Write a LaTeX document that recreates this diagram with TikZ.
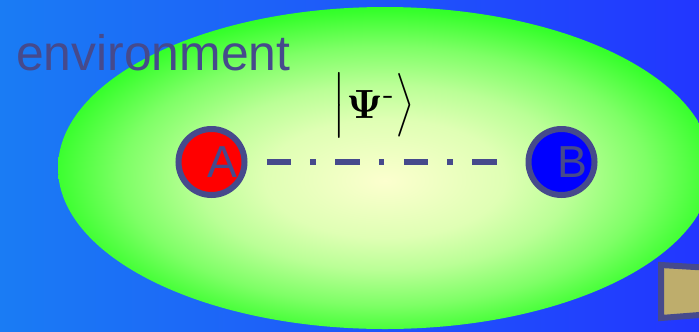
\documentclass[tikz,border=0pt]{standalone}
\usepackage[no-math]{fontspec}
\newfontfamily\arialfont{Liberation Sans}
\usepackage{graphicx}
\usepackage{tikz}
\usetikzlibrary{positioning}
\definecolor{envslate}{HTML}{464A8C}
\definecolor{bgleft}{HTML}{1A7CF4}
\definecolor{bgright}{HTML}{2236FF}
\definecolor{envgreen}{HTML}{14FF14}
\definecolor{envcore}{RGB}{252,255,206}
\definecolor{envpale}{RGB}{223,255,180}
\definecolor{envlime}{RGB}{186,255,150}
\definecolor{envleaf}{RGB}{126,255,102}
\definecolor{envdeep}{RGB}{56,255,45}
\definecolor{partyred}{HTML}{FF0000}
\definecolor{partyblue}{HTML}{0000FF}
\definecolor{doortan}{HTML}{BEAD6C}
\pgfdeclareradialshading{envglow}{\pgfpoint{0bp}{-2bp}}{%
  color(0bp)=(envcore); color(9.2bp)=(envpale); color(14.4bp)=(envlime);
  color(20.1bp)=(envleaf); color(25.3bp)=(envdeep); color(28.8bp)=(envgreen);
  color(50bp)=(envgreen)}
\tikzset{
  partynode/.style={circle, draw=envslate, line width=6bp, inner sep=0pt,
    minimum size=66bp, text=envslate, font=\arialfont\fontsize{45}{45}\selectfont},
  partyA/.style={partynode, fill=partyred},
  partyB/.style={partynode, fill=partyblue},
  envlab/.style={inner sep=0pt, text=envslate, font=\arialfont\fontsize{50}{50}\selectfont},
  ketlab/.style={inner sep=0pt},
  bondline/.style={draw=envslate, line width=5.5bp,
    dash pattern=on 24.5bp off 19bp on 5.3bp off 19.7bp},
  doorbox/.style={draw=envslate, fill=doortan, line width=6bp},
}

\begin{document}
\begin{tikzpicture}[x=1bp, y=-1bp]
\useasboundingbox (0,0) rectangle (699,331);
\clip (0,0) rectangle (699,331);
% background and environment
\shade[left color=bgleft, right color=bgright] (0,0) rectangle (699,331);
\shade[shading=envglow] (385,168) ellipse [x radius=327, y radius=161];
\node[envlab, anchor=base west] (env) at (16,70) {environment};
% the two parties and their shared state
\node[partyA] (A) at (211.5,162) {\hspace*{21bp}A};
\node[partyB, right=278bp of A] (B) {\hspace*{21bp}B};
\node[ketlab] (ket) at (374,105) {\scalebox{4.1}{$\scalebox{1}[1.3]{$\bigl|$}\mathbf{\Psi}^{\hbox{\scriptsize -}}\scalebox{1}[1.3]{$\bigr\rangle$}$}};
\draw[bondline, shorten <=19.4bp, shorten >=29bp] (A) -- (B);
% door, cut by the frame
\draw[doorbox] (661,265) -- (712,268) -- (712,314) -- (661,318) -- cycle;
\end{tikzpicture}
\end{document}
